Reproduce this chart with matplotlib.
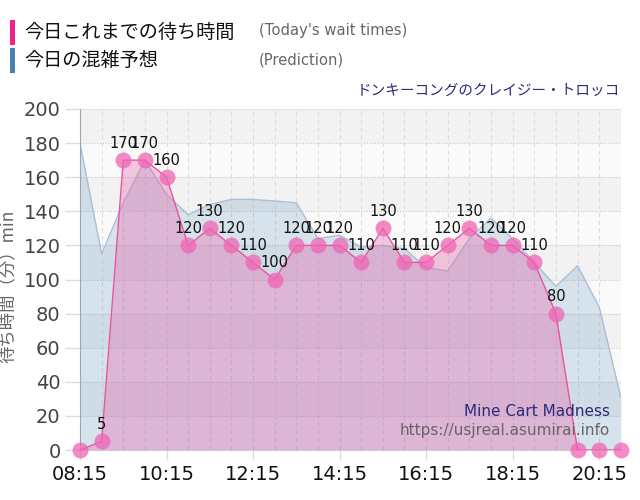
import matplotlib
matplotlib.use("Agg")
import matplotlib.pyplot as plt
from matplotlib.patches import Rectangle
import numpy as np

JP = ["Noto Sans CJK JP", "DejaVu Sans"]

# ---- data -------------------------------------------------------------------
times = ["08:15", "08:45", "09:15", "09:45", "10:15", "10:45", "11:15", "11:45",
         "12:15", "12:45", "13:15", "13:45", "14:15", "14:45", "15:15", "15:45",
         "16:15", "16:45", "17:15", "17:45", "18:15", "18:45", "19:15", "19:45",
         "20:15", "20:45"]
actual = [0, 5, 170, 170, 160, 120, 130, 120, 110, 100, 120, 120, 120, 110,
          130, 110, 110, 120, 130, 120, 120, 110, 80, 0, 0, 0]
forecast = [180, 115, 145, 170, 150, 138, 144, 147, 147, 146, 145, 124, 126,
            119, 120, 118, 107, 105, 124, 136, 124, 110, 96, 108, 84, 31]
tick_labels = ["08:15", "10:15", "12:15", "14:15", "16:15", "18:15", "20:15"]
y_ticks = [0, 20, 40, 60, 80, 100, 120, 140, 160, 180, 200]


def to_min(t):
    h, m = t.split(":")
    return int(h) * 60 + int(m)


x = np.array([to_min(t) for t in times])
xt = [to_min(t) for t in tick_labels]

PINK = "#ec5aa9"
BLUE = (70 / 255, 130 / 255, 180 / 255)
NAVY = "#2b2b78"

fig = plt.figure(figsize=(6.4, 5.0), dpi=100)
ax = fig.add_axes([0.125, 0.10, 0.845, 0.682])
ax.set_xlim(x[0], x[-1])
ax.set_ylim(0, 200)

# alternating background bands
for i in range(len(y_ticks) - 1):
    ax.axhspan(y_ticks[i], y_ticks[i + 1], color="#f2f2f2" if i % 2 else "#fafafa",
               lw=0, zorder=0)
for yv in y_ticks[1:]:
    ax.axhline(yv, color="#c8c8c8", lw=0.8, ls=(0, (1, 1.5)), zorder=0.5)
for xv in x[1:-1]:
    ax.axvline(xv, color="#dddddd", lw=0.8, ls=(0, (4, 3)), zorder=0.5)

# forecast
ax.fill_between(x, forecast, 0, color=BLUE, alpha=0.2, lw=0, zorder=1)
ax.plot(x, forecast, color="#a8c0d6", lw=1.0, zorder=1.5)

# actual
ax.fill_between(x, actual, 0, color=PINK, alpha=0.32, lw=0, zorder=2)
ax.plot(x, actual, color="#e8559f", lw=1.0, zorder=2.5)
ax.scatter(x, actual, s=11.5 ** 2, color="#f064b4", alpha=0.75, lw=0, zorder=3,
           clip_on=False)
for xv, yv in zip(x, actual):
    if yv > 0:
        ax.annotate(str(yv), (xv, yv), xytext=(0, 12), textcoords="offset points",
                    ha="center", va="center", fontsize=10.5, color="#111111",
                    zorder=4)

# axes styling
ax.set_xticks(xt)
ax.set_xticklabels(tick_labels, fontsize=14, color="#111111")
ax.set_yticks(y_ticks)
ax.set_yticklabels([str(v) for v in y_ticks], fontsize=14, color="#444444")
ax.tick_params(axis="y", length=11, color="#dddddd", width=1, pad=3)
ax.tick_params(axis="x", length=7, color="#dddddd", width=1, pad=4)
for s in ("top", "right"):
    ax.spines[s].set_visible(False)
ax.spines["left"].set_color("#9aa6b2")
ax.spines["bottom"].set_color("#cccccc")
ax.set_ylabel("待ち時間（分）min", family=JP, fontsize=12.5, color="#666666")
ax.yaxis.set_label_coords(-0.117, 0.48)

ax.text(0.98, 0.114, "Mine Cart Madness", transform=ax.transAxes, ha="right",
        va="center", fontsize=11, color=NAVY, zorder=5)
ax.text(0.98, 0.056, "https://usjreal.asumirai.info", transform=ax.transAxes,
        ha="right", va="center", fontsize=11, color="#666666", zorder=5)

# header legend
fig.patches.append(Rectangle((10 / 640, 1 - 45 / 500), 5 / 640, 25 / 500,
                             transform=fig.transFigure, color="#f0208c", lw=0))
fig.patches.append(Rectangle((10 / 640, 1 - 73 / 500), 5 / 640, 25 / 500,
                             transform=fig.transFigure, color="#4a82b4", lw=0))
fig.text(24 / 640, 1 - 32 / 500, "今日これまでの待ち時間", family=JP, fontsize=13.8,
         va="center", ha="left", color="#111111")
fig.text(24 / 640, 1 - 61 / 500, "今日の混雑予想", family=JP, fontsize=13.8,
         va="center", ha="left", color="#111111")
fig.text(259 / 640, 1 - 31 / 500, "(Today's wait times)", fontsize=10.6,
         va="center", ha="left", color="#666666")
fig.text(259 / 640, 1 - 60 / 500, "(Prediction)", fontsize=10.6,
         va="center", ha="left", color="#666666")
fig.text(620 / 640, 1 - 91 / 500, "ドンキーコングのクレイジー・トロッコ", family=JP,
         fontsize=10.5, va="center", ha="right", color=NAVY)

fig.savefig("out.png", dpi=100)
